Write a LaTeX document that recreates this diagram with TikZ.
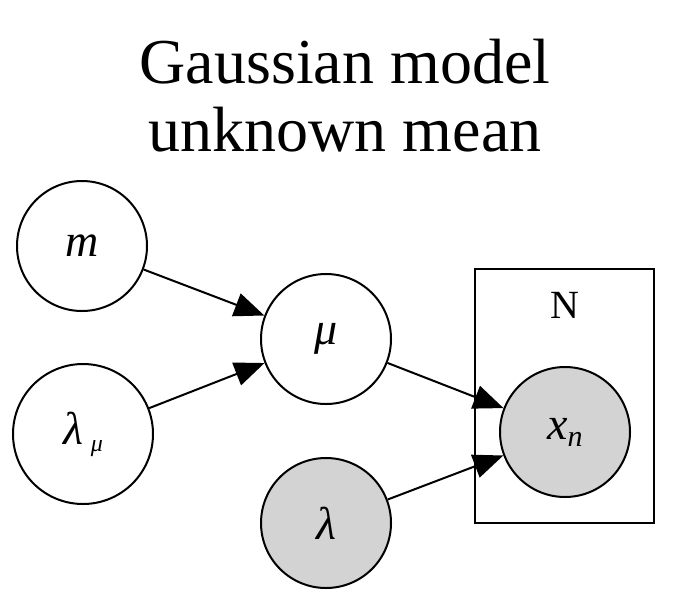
\documentclass[tikz,border=0pt]{standalone}
\usepackage{fontspec}
\setmainfont{Liberation Serif}
\usetikzlibrary{arrows.meta}
\begin{document}
\begin{tikzpicture}[x=1pt,y=-1pt,
  var/.style={circle,draw,line width=2pt,minimum size=130pt,inner sep=0pt,font=\fontsize{46}{52}\selectfont\itshape},
  obs/.style={var,fill={rgb,255:red,211;green,211;blue,211}},
  edge/.style={line width=2pt,-{Triangle[length=30pt,width=24pt]}}]
\useasboundingbox (0,0) rectangle (690,600);
\node[font=\fontsize{64}{68}\selectfont,align=center] (title) at (345,96) {Gaussian model\\unknown mean};
\draw[line width=2pt] (475,269) rectangle (654,523);
\node[font=\fontsize{40}{46}\selectfont] (plate) at (565,305) {N};
\node[var] (m) at (82,246) {m};
\node[var,minimum size=140pt] (lm) at (83,434) {λ\,\raisebox{-7pt}{\fontsize{24}{28}\selectfont μ}};
\node[var] (mu) at (326,339) {μ};
\node[obs] (lam) at (326,523) {λ};
\node[obs] (x) at (565,432) {x\raisebox{-7pt}{\fontsize{30}{34}\selectfont n}};
\draw[edge] (m) -- (mu);
\draw[edge] (lm) -- (mu);
\draw[edge] (mu) -- (x);
\draw[edge] (lam) -- (x);
\end{tikzpicture}
\end{document}
